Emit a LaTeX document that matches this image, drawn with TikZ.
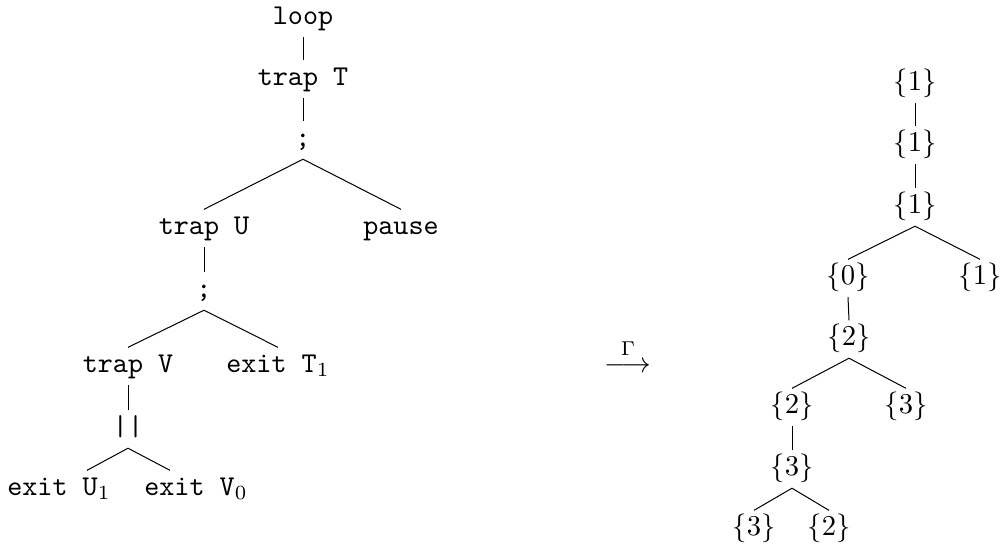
\documentclass[tikz,border=0pt]{standalone}
\usepackage{amsmath}
\usetikzlibrary{calc}
\begin{document}
\begin{tikzpicture}[x=0.3484pt, y=-0.3484pt,
  lbl/.style={anchor=base, inner sep=1.4pt, text height=7pt, text depth=3pt},
  tt/.style={lbl, font=\ttfamily},
  link/.style={line width=0.35pt}]
\useasboundingbox (0,0) rectangle (1003,550);

% ---- program tree ----
\node[tt] (loop)  at (303,24)  {loop};
\node[tt] (trapT) at (303,85)  {trap T};
\node[tt] (seqA)  at (303,146) {;};
\node[tt] (trapU) at (204,234) {trap U};
\node[tt] (pause) at (401,234) {pause};
\node[tt] (seqB)  at (204,297) {;};
\node[tt] (trapV) at (128,372) {trap V};
\node[tt] (exitT) at (278,372) {exit T$_1$};
\node[tt] (par)   at (128,435) {||};
\node[tt] (exitU) at (59,495)  {exit U$_1$};
\node[tt] (exitV) at (196,495) {exit V$_0$};

\coordinate (exitUtop) at ($(exitU.north)+(28,0)$);
\coordinate (exitVtop) at ($(exitV.north)+(-26,0)$);

\draw[link] (loop.south) -- (trapT.north);
\draw[link] (trapT.south) -- (seqA.north);
\draw[link] (trapU.north) -- (seqA.south) -- (pause.north);
\draw[link] (trapU.south) -- (seqB.north);
\draw[link] (trapV.north) -- (seqB.south) -- (exitT.north);
\draw[link] (trapV.south) -- (par.north);
\draw[link] (exitUtop) -- (par.south) -- (exitVtop);

% ---- the mapping ----
\node[anchor=base] (gam) at (628,372) {$\stackrel{\Gamma}{\longrightarrow}$};

% ---- completion-code tree ----
\node[lbl] (ra) at (915,90)  {$\{1\}$};
\node[lbl] (rb) at (915,151) {$\{1\}$};
\node[lbl] (rc) at (915,213) {$\{1\}$};
\node[lbl] (rd) at (848,284) {$\{0\}$};
\node[lbl] (re) at (980,284) {$\{1\}$};
\node[lbl] (rf) at (849,345) {$\{2\}$};
\node[lbl] (rg) at (792,413) {$\{2\}$};
\node[lbl] (rh) at (906,413) {$\{3\}$};
\node[lbl] (ri) at (792,475) {$\{3\}$};
\node[lbl] (rj) at (754,535) {$\{3\}$};
\node[lbl] (rk) at (829,535) {$\{2\}$};

\draw[link] (ra.south) -- (rb.north);
\draw[link] (rb.south) -- (rc.north);
\draw[link] (rd.north) -- (rc.south) -- (re.north);
\draw[link] (rd.south) -- (rf.north);
\draw[link] (rg.north) -- (rf.south) -- (rh.north);
\draw[link] (rg.south) -- (ri.north);
\draw[link] (rj.north) -- (ri.south) -- (rk.north);
\end{tikzpicture}
\end{document}
